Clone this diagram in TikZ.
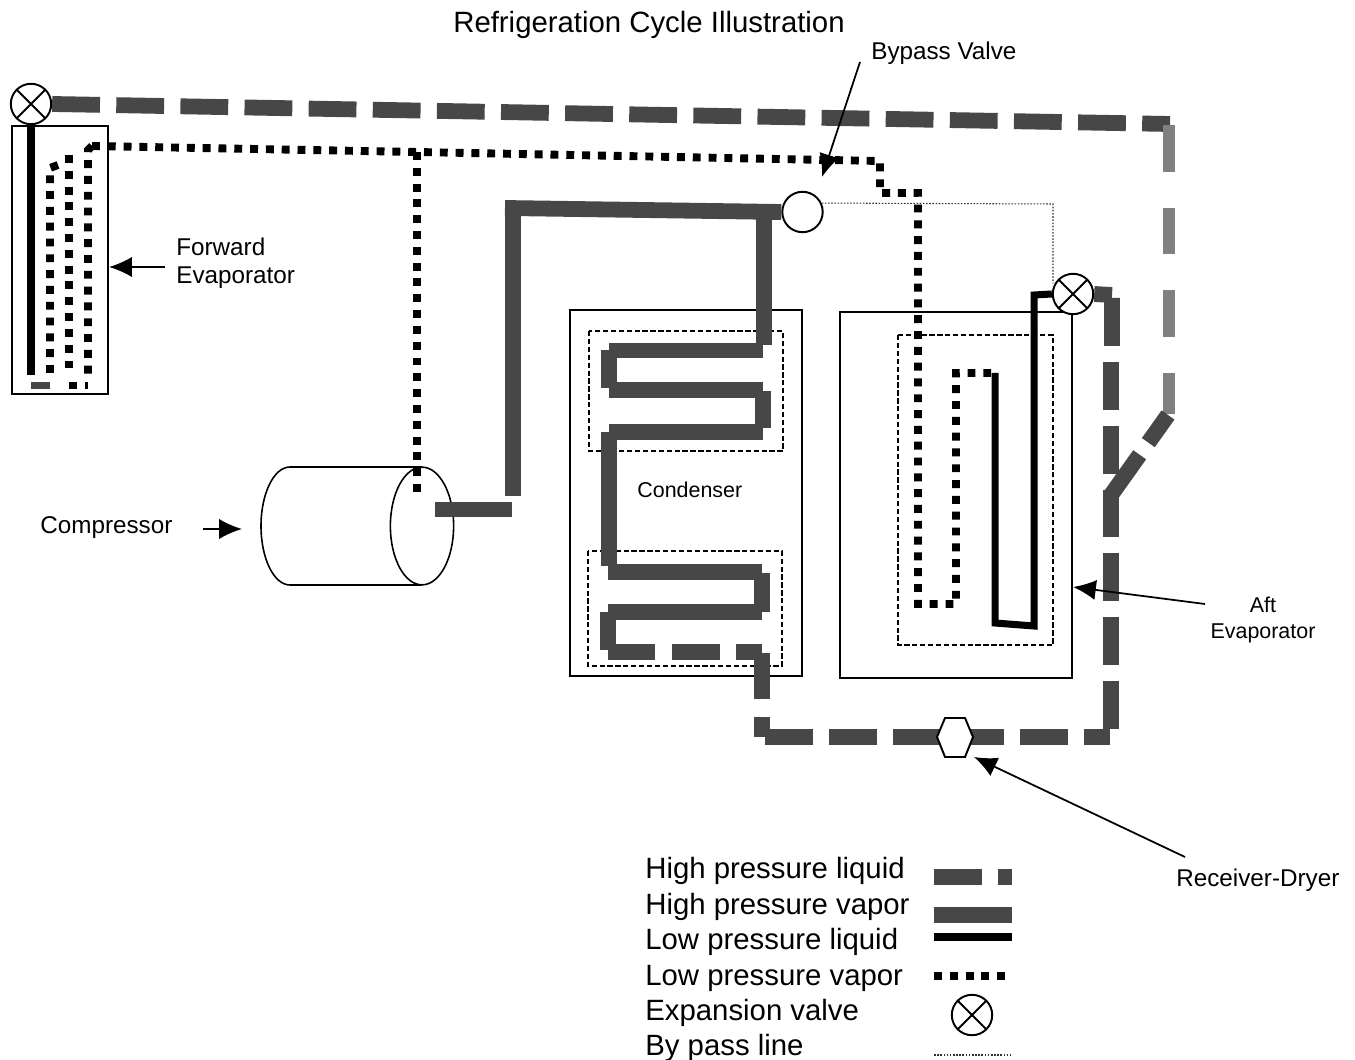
\documentclass[tikz,border=0pt]{standalone}
\usepackage{fontspec}
\setmainfont{Liberation Sans}
\usetikzlibrary{shapes.geometric,arrows.meta}
\definecolor{pipedark}{gray}{0.28}
\definecolor{pipelight}{gray}{0.50}
\tikzset{
	hpvapor/.style={draw=pipedark, line width=9pt},
	hpliquid/.style={draw=pipedark, line width=9pt, dash pattern=on 27.2pt off 9.1pt},
	lpliquid/.style={draw=black, line width=4pt},
	lpvapor/.style={draw=black, line width=4.5pt, dash pattern=on 4.5pt off 4.5pt},
	bypassline/.style={draw=black!80, line width=0.6pt, dash pattern=on 0.9pt off 0.9pt},
	coil/.style={draw=black, line width=0.9pt, dash pattern=on 3pt off 1.5pt},
	box/.style={draw=black, line width=0.9pt},
	pointer/.style={draw=black, line width=1pt, -{Latex[length=13pt,width=11.5pt]}},
	plainvalve/.style={circle, draw=black, line width=1.1pt, fill=white, minimum size=23pt, inner sep=0pt},
	expvalve/.style={plainvalve, path picture={
		\draw[line width=1.1pt] (path picture bounding box.north west) -- (path picture bounding box.south east);
		\draw[line width=1.1pt] (path picture bounding box.north east) -- (path picture bounding box.south west);}},
	label/.style={font=\fontsize{13.8}{16}\selectfont, align=left, inner sep=0pt},
	smalllabel/.style={font=\fontsize{12.2}{14.7}\selectfont, align=center, inner sep=0pt},
	legendtext/.style={font=\fontsize{16.7}{20}\selectfont, anchor=west, inner sep=0pt}
}
\begin{document}
\begin{tikzpicture}[x=0.02cm, y=-0.02cm]
	\useasboundingbox (0,0) rectangle (1355,1060);
	% enclosures
	\draw[box] (12,126) rectangle (108,394);
	\draw[box] (570,310) rectangle (802,676);
	\draw[box] (840,312) rectangle (1072,678);
	\draw[coil] (589,331) rectangle (783,451);
	\draw[coil] (588,551) rectangle (782,666);
	\draw[coil] (898,335) rectangle (1053,645);
	% compressor
	\draw[box] (290,467) -- (422,467) (290,585) -- (422,585);
	\draw[box] (290,467) arc[start angle=270, end angle=90, x radius=29, y radius=59];
	\node[ellipse, draw=black, line width=0.9pt, fill=white, minimum width=36pt, minimum height=67pt, inner sep=0pt] (compEnd) at (422,526) {};
	% valves
	\node[expvalve] (fwdValve) at (31,104) {};
	\node[expvalve] (aftValve) at (1073,294) {};
	\node[plainvalve] (bypassValve) at (802.5,212) {};
	% bypass line
	\coordinate (bypassCorner) at (1053,204);
	\draw[bypassline] (bypassValve.25) -- (bypassCorner) -- (bypassCorner |- aftValve.150);
	% high pressure vapor
	\draw[hpvapor] (435,509.5) -- (512,509.5);
	\draw[hpvapor] (513,496) -- (513,208);
	\draw[hpvapor] (505,208) -- (bypassValve.west);
	\draw[hpvapor] (764,210) -- (764,345);
	\draw[hpvapor] (763,350.5) -- (609,350.5) (609,350) -- (609,388) (609,390) -- (763,390) (763,391) -- (763,428) (763,432) -- (609,432) (609,432) -- (609,566);
	\draw[hpvapor] (608,572) -- (762,572) (762,573) -- (762,612) (762,612) -- (608,612) (608,612) -- (608,650) (608,652) -- (655,652);
	\draw[hpvapor] (672,652) -- (720,652) (736,652) -- (762,652) (762,653) -- (762,699);
	% high pressure liquid
	\coordinate (rearCorner) at (1110,737);
	\coordinate (frontCorner) at (762,737);
	\draw[hpliquid, dash pattern=on 27.2pt off 9.3pt] (fwdValve.east) -- (1170,124);
	\draw[draw=pipelight, line width=6.8pt, dash pattern=on 26.6pt off 20.4pt] (1169,125) -- (1169,414);
	\draw[hpliquid, dash pattern=on 19.3pt off 8.5pt on 29.5pt off 20pt] (1168,415) -- (1111,495);
	\draw[hpvapor] (aftValve.east) -- (1112,295) (1112,298) -- (1112,346);
	\draw[hpliquid] (1111,362) -- (1111,730);
	\draw[hpliquid, dash phase=12.5pt] (rearCorner) -- (frontCorner);
	\draw[hpvapor] (frontCorner) -- (762,717);
	\draw[fill=white, draw=black, line width=1.1pt] (937,737) -- (945,718) -- (965,718) -- (973,737) -- (965,757) -- (945,757) -- cycle;
	% low pressure liquid
	\draw[lpliquid] (31,123) -- (31,375);
	\draw[lpliquid] (995,373) -- (995,623) -- (1034,626) -- (1034,295) -- (aftValve.west);
	% low pressure vapor
	\draw[lpvapor] (92,146) -- (88,150) -- (88,375);
	\draw[lpvapor] (92,146) -- (417,152) -- (880,161) -- (880,193) -- (918,193) -- (918,604) -- (956,604) -- (956,373) -- (992,373);
	\draw[lpvapor] (417,152) -- (417,492);
	\draw[lpvapor] (69,155) -- (69,375);
	\draw[lpvapor] (58,165) -- (50,168) -- (50,375);
	\draw[lpvapor] (69,385.5) -- (77,385.5) (85,385.5) -- (87.5,385.5);
	\draw[hpvapor, line width=4.3pt] (31,385.5) -- (50,385.5);
	% pointers
	\coordinate (bypassTip) at (822,177);
	\coordinate (fwdTip) at (109,267);
	\coordinate (compTip) at (242,529);
	\coordinate (aftTip) at (1073,587);
	\coordinate (receiverTip) at (974,757);
	% labels
	\node[legendtext, anchor=center] (title) at (649,25) {Refrigeration Cycle Illustration};
	\node[label, anchor=west] (bypassLabel) at (871,53) {Bypass Valve};
	\node[label, anchor=west] (fwdLabel) at (176,263) {Forward\\Evaporator};
	\node[label, anchor=west] (compLabel) at (40,528) {Compressor};
	\node[smalllabel, anchor=west] (condLabel) at (637,490) {Condenser};
	\node[smalllabel] (aftLabel) at (1263,620) {Aft\\Evaporator};
	\node[label, anchor=west] (receiverLabel) at (1176,880) {Receiver-Dryer};
	\draw[pointer] (860,62) -- (bypassTip);
	\draw[pointer] (165,267) -- (fwdTip);
	\draw[pointer] (203,529) -- (compTip);
	\draw[pointer] (1205,604) -- (aftTip);
	\draw[pointer] (1185,857) -- (receiverTip);
	% legend
	\foreach \y/\txt in {871/High pressure liquid, 907/High pressure vapor, 942/Low pressure liquid, 978/Low pressure vapor, 1013/Expansion valve, 1048/By pass line}{
		\node[legendtext] at (645,\y) {\txt};
	}
	\draw[hpliquid] (934,877) -- (1012,877);
	\draw[hpvapor] (934,915) -- (1012,915);
	\draw[lpliquid] (934,937) -- (1012,937);
	\draw[lpvapor] (934,976) -- (1007,976);
	\node[expvalve] (legendValve) at (972,1015) {};
	\draw[bypassline] (934,1055) -- (1012,1055);
\end{tikzpicture}
\end{document}
